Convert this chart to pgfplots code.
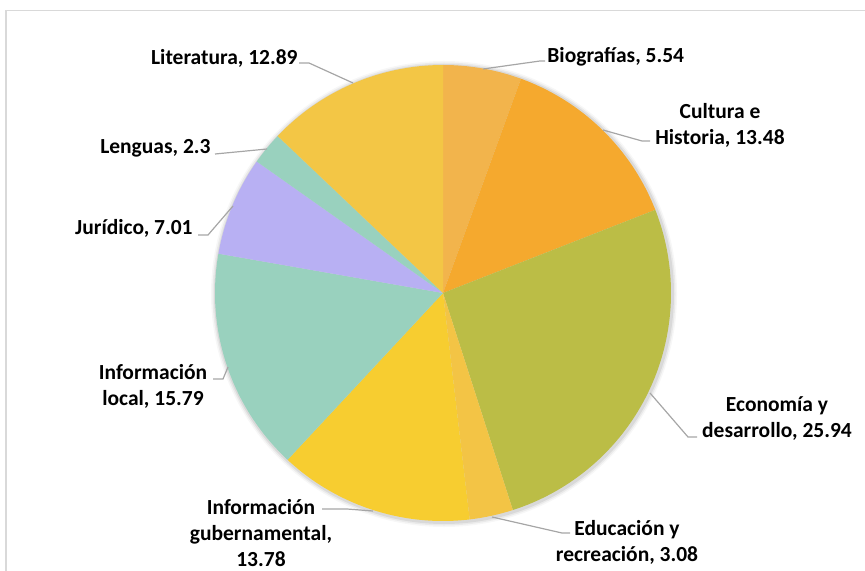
\documentclass[border=0pt]{standalone}
\usepackage{pgfplots}
\usepackage{pgfplotstable}
\pgfplotsset{compat=1.18}
\usepackage{fontspec}
\setmainfont{Carlito}

\definecolor{slice0}{HTML}{F2B44C}
\definecolor{slice1}{HTML}{F5A92E}
\definecolor{slice2}{HTML}{BBBD46}
\definecolor{slice3}{HTML}{F3C445}
\definecolor{slice4}{HTML}{F7CD30}
\definecolor{slice5}{HTML}{99D1BE}
\definecolor{slice6}{HTML}{B8B0F3}
\definecolor{slice7}{HTML}{99D1BE}
\definecolor{slice8}{HTML}{F3C645}
\definecolor{leader}{HTML}{A6A6A6}
\definecolor{frame}{HTML}{D9D9D9}

\pgfplotstableread[col sep=comma]{
label,value
Biografias,5.54
Cultura e Historia,13.48
Economia y desarrollo,25.94
Educacion y recreacion,3.08
Informacion gubernamental,13.78
Informacion local,15.79
Juridico,7.01
Lenguas,2.3
Literatura,12.89
}\piedata

\begin{document}
\begin{tikzpicture}
\begin{axis}[
  at={(0pt,0pt)}, anchor=south west,
  scale only axis, width=432.5pt, height=285.5pt,
  xmin=0, xmax=865, ymin=0, ymax=571, y dir=reverse,
  hide axis, clip=false,
]
\pgfplotsextra{
  % total of the values
  \pgfplotstablegetrowsof{\piedata}
  \pgfmathtruncatemacro\N{\pgfplotsretval-1}
  \gdef\pietotal{0}
  \foreach \i in {0,...,\N}{
    \pgfplotstablegetelem{\i}{value}\of\piedata
    \pgfmathsetmacro\t{\pietotal+\pgfplotsretval}
    \xdef\pietotal{\t}
  }
  % soft shadow
  \foreach \k/\op in {5/0.03,3.5/0.05,2/0.07}{
    \fill[black,opacity=\op] (axis cs:444,294) circle[radius=114pt+\k pt*0.5];
  }
  % slices
  \foreach \i [remember=\b as \a (initially 90)] in {0,...,\N}{
    \pgfplotstablegetelem{\i}{value}\of\piedata
    \pgfmathsetmacro\b{\a-\pgfplotsretval/\pietotal*360}
    \fill[slice\i] (axis cs:443,293) -- ++(\a:114pt) arc[start angle=\a, end angle=\b, radius=114pt] -- cycle;
  }
  \path (axis cs:0,0) rectangle (axis cs:865,571);
}
% frame
\draw[frame, line width=0.75pt] (axis cs:6,571) -- (axis cs:6,10.5) -- (axis cs:865,10.5);
% leader lines
\begin{scope}[leader, line width=0.6pt]
\draw (axis cs:299,63) -- (axis cs:309,63) -- (axis cs:353,83);
\draw (axis cs:483,69) -- (axis cs:540,61) -- (axis cs:545,61);
\draw (axis cs:603,130) -- (axis cs:642,141) -- (axis cs:650,141);
\draw (axis cs:650,393) -- (axis cs:688,437) -- (axis cs:697,437);
\draw (axis cs:492,517) -- (axis cs:562,533) -- (axis cs:570,533);
\draw (axis cs:373,511) -- (axis cs:347,509) -- (axis cs:322,509);
\draw (axis cs:228,367) -- (axis cs:223,379) -- (axis cs:213,379);
\draw (axis cs:233,206) -- (axis cs:208,235) -- (axis cs:198,235);
\draw (axis cs:267,149) -- (axis cs:215,154);
\end{scope}
% labels
\begin{scope}[every node/.style={inner sep=0pt, font=\fontsize{10.75}{13}\selectfont\bfseries, align=center}]
\node[anchor=east] at (axis cs:298,58) {Literatura, 12.89};
\node[anchor=west] at (axis cs:547,57) {Biografías, 5.54};
\node at (axis cs:720,125) {Cultura e\\Historia, 13.48};
\node at (axis cs:777,419) {Economía y\\desarrollo, 25.94};
\node at (axis cs:627,542) {Educación y\\recreación, 3.08};
\node at (axis cs:261,533) {Información\\gubernamental,\\13.78};
\node at (axis cs:153,386) {Información\\local, 15.79};
\node[anchor=east] at (axis cs:193,228) {Jurídico, 7.01};
\node[anchor=east] at (axis cs:211,148) {Lenguas, 2.3};
\end{scope}
\end{axis}
\pgfresetboundingbox
\path (0pt,0pt) rectangle (432.5pt,285.5pt);
\end{tikzpicture}
\end{document}
